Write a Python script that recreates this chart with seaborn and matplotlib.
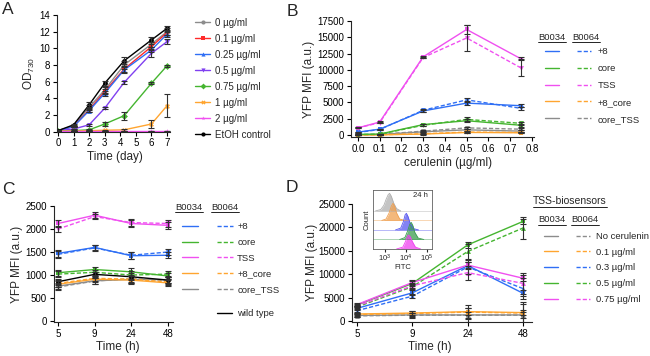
import matplotlib
matplotlib.use('Agg')
import matplotlib.pyplot as plt
import pandas as pd
import seaborn as sns
from matplotlib.lines import Line2D

# ---------------- data ----------------
# A: growth (OD730) under cerulenin
days = [0, 1, 2, 3, 4.25, 6, 7]
a_groups = ['0 µg/ml', '0.1 µg/ml', '0.25 µg/ml', '0.5 µg/ml', '0.75 µg/ml',
            '1 µg/ml', '2 µg/ml', 'EtOH control']
od_0 = [0.1, 0.7, 2.9, 5.0, 8.0, 10.5, 12.0]
od_01 = [0.1, 0.6, 2.6, 4.8, 7.5, 10.2, 11.9]
od_025 = [0.1, 0.6, 2.5, 4.6, 7.4, 9.8, 11.7]
od_05 = [0.1, 0.3, 0.8, 2.8, 5.9, 9.4, 10.8]
od_075 = [0.05, 0.1, 0.2, 0.9, 1.9, 5.8, 7.9]
od_1 = [0.05, 0.05, 0.1, 0.15, 0.2, 0.9, 3.1]
od_2 = [0.05, 0.05, 0.05, 0.05, 0.05, 0.05, 0.05]
od_etoh = [0.1, 0.8, 3.2, 5.8, 8.5, 11.0, 12.4]
sd_0 = [0.05, 0.1, 0.3, 0.4, 0.5, 0.3, 0.4]
sd_01 = [0.05, 0.1, 0.2, 0.3, 0.4, 0.3, 0.3]
sd_025 = [0.05, 0.1, 0.2, 0.3, 0.4, 0.3, 0.3]
sd_05 = [0.05, 0.05, 0.1, 0.1, 0.2, 0.4, 0.3]
sd_075 = [0.02, 0.05, 0.05, 0.2, 0.5, 0.1, 0.1]
sd_1 = [0.02, 0.02, 0.05, 0.05, 0.1, 0.5, 1.4]
sd_2 = [0.02, 0.02, 0.02, 0.02, 0.02, 0.02, 0.02]
sd_etoh = [0.05, 0.1, 0.3, 0.3, 0.4, 0.3, 0.3]

# B: YFP MFI vs cerulenin dose
cerulenin = [0, 0.1, 0.3, 0.5, 0.75]
constructs = ['+8', 'core', 'TSS', '+8_core', 'core_TSS']
b34_plus8 = [450, 900, 3700, 4900, 4500]
b64_plus8 = [400, 850, 3800, 5400, 4100]
b34_core = [100, 150, 1600, 2200, 1500]
b64_core = [80, 120, 1500, 2400, 1800]
b34_tss = [1100, 2000, 12000, 16200, 11700]
b64_tss = [1100, 1900, 11900, 14900, 10300]
b34_p8core = [20, 30, 150, 400, 350]
b64_p8core = [30, 40, 200, 450, 400]
b34_coretss = [50, 80, 500, 800, 600]
b64_coretss = [60, 100, 600, 1100, 900]
bsd34_plus8 = [60, 80, 200, 300, 250]
bsd64_plus8 = [60, 80, 200, 300, 200]
bsd34_core = [30, 40, 150, 250, 200]
bsd64_core = [30, 40, 150, 300, 200]
bsd34_tss = [80, 120, 150, 700, 200]
bsd64_tss = [80, 120, 150, 2000, 1300]
bsd34_p8core = [20, 20, 80, 100, 100]
bsd64_p8core = [20, 20, 80, 120, 100]
bsd34_coretss = [30, 30, 100, 150, 150]
bsd64_coretss = [30, 30, 100, 200, 150]

# C: YFP MFI over time without cerulenin
times_h = ['5', '9', '24', '48']
c34_plus8 = [1470, 1600, 1420, 1430]
c64_plus8 = [1450, 1590, 1430, 1500]
c34_core = [1050, 1120, 1070, 980]
c64_core = [1020, 1060, 1000, 1020]
c34_tss = [2120, 2300, 2120, 2080]
c64_tss = [2000, 2270, 2140, 2120]
c34_p8core = [800, 910, 890, 830]
c64_p8core = [820, 930, 910, 850]
c34_coretss = [760, 875, 905, 900]
c64_coretss = [740, 870, 920, 880]
c_wildtype = [855, 1015, 963, 890]
c_sd = [70, 60, 80, 70]

# D: TSS biosensors over time with cerulenin
d_doses = ['No cerulenin', '0.1 µg/ml', '0.3 µg/ml', '0.5 µg/ml', '0.75 µg/ml']
d34_0 = [1200, 1300, 1300, 1300]
d64_0 = [1100, 1250, 1250, 1250]
d34_01 = [1500, 1700, 2000, 1800]
d64_01 = [1400, 1600, 1900, 1700]
d34_03 = [2700, 6000, 11800, 5900]
d64_03 = [2200, 5300, 11500, 6900]
d34_05 = [3400, 8000, 16200, 21200]
d64_05 = [3000, 7300, 14800, 19800]
d34_075 = [3500, 8200, 11900, 9100]
d64_075 = [3200, 7500, 10300, 8000]
dsd34 = [300, 500, 700, 600]
dsd64 = [300, 500, 1500, 2300]

# D inset: FITC histograms at 24 h (log10 FITC, relative count)
gray_x = [2.55, 2.8, 2.95, 3.05, 3.15, 3.22, 3.3, 3.42, 3.55, 3.75]
gray_h = [0, 0.15, 0.6, 1.2, 1.7, 1.85, 1.55, 0.8, 0.25, 0]
orange_x = [2.85, 3.05, 3.2, 3.3, 3.38, 3.46, 3.55, 3.7, 3.95]
orange_h = [0, 0.15, 0.8, 1.5, 1.8, 1.5, 0.8, 0.15, 0]
blue_x = [3.5, 3.75, 3.88, 3.96, 4.02, 4.1, 4.2, 4.35, 4.6]
blue_h = [0, 0.2, 0.9, 1.6, 1.75, 1.4, 0.7, 0.15, 0]
green_x = [3.7, 3.95, 4.08, 4.18, 4.25, 4.33, 4.42, 4.58, 4.85]
green_h = [0, 0.2, 0.9, 1.6, 1.8, 1.45, 0.75, 0.15, 0]
magenta_x = [3.55, 3.85, 3.98, 4.06, 4.12, 4.2, 4.3, 4.45, 4.7]
magenta_h = [0, 0.2, 0.8, 1.3, 1.47, 1.3, 0.8, 0.2, 0]

# ---------------- style ----------------
sns.set_style('ticks')
plt.rcParams['font.family'] = ['Liberation Sans', 'DejaVu Sans']
plt.rcParams['mathtext.fontset'] = 'custom'
plt.rcParams['mathtext.rm'] = 'Liberation Sans'
plt.rcParams['mathtext.it'] = 'Liberation Sans:italic'
plt.rcParams['axes.linewidth'] = 0.8
plt.rcParams['xtick.major.width'] = 0.8
plt.rcParams['ytick.major.width'] = 0.8
plt.rcParams['xtick.major.size'] = 3
plt.rcParams['ytick.major.size'] = 3
plt.rcParams['xtick.major.pad'] = 2
plt.rcParams['ytick.major.pad'] = 2

GRAY = '#8c8c8c'
RED = '#ff2a2a'
BLUE = '#2f6ff5'
PURPLE = '#8040f0'
GREEN = '#45b530'
ORANGE = '#ffa530'
MAGENTA = '#f050f0'
ECOL = '#303030'

TICK = 7
LAB = 8.5
LEG = 6.8

fig = plt.figure(figsize=(6.5, 3.56), dpi=100)
W, H = 650, 356
underlined = []


def px_axes(l, r, t, b):
    return fig.add_axes([l / W, 1 - b / H, (r - l) / W, (b - t) / H])


def style_ax(ax):
    sns.despine(ax=ax)
    ax.tick_params(labelsize=TICK, colors='black')
    ax.set_facecolor('none')


def header(x, y, s, size=LEG):
    t = fig.text(x / W, 1 - y / H, s, fontsize=size, ha='center', va='center')
    underlined.append(t)


# ---------------- A ----------------
axA = px_axes(57, 170, 15, 131.5)
a_od = [od_0, od_01, od_025, od_05, od_075, od_1, od_2, od_etoh]
a_sd = [sd_0, sd_01, sd_025, sd_05, sd_075, sd_1, sd_2, sd_etoh]
a_colors = [GRAY, RED, BLUE, PURPLE, GREEN, ORANGE, MAGENTA, 'black']
a_marks = ['o', 's', '^', 'v', 'D', 'X', '*', 'o']
dfA = pd.DataFrame([(d, v, g) for g, vals in zip(a_groups, a_od)
                    for d, v in zip(days, vals)], columns=['day', 'od', 'group'])
sns.lineplot(data=dfA, x='day', y='od', hue='group', style='group',
             hue_order=a_groups, style_order=a_groups,
             palette=a_colors, markers=a_marks, dashes=False,
             markersize=3.5, markeredgewidth=0, linewidth=1, legend=False, ax=axA)
for vals, sds in zip(a_od, a_sd):
    axA.errorbar(days, vals, yerr=sds, fmt='none', ecolor=ECOL, elinewidth=0.8,
                 capsize=2.2, capthick=0.8)
axA.set_xlim(-0.06, 7.19)
axA.set_ylim(0, 14)
axA.set_xticks(range(8))
axA.set_yticks(range(0, 15, 2))
axA.set_xlabel('Time (day)', fontsize=LAB)
axA.set_ylabel('OD$_{730}$', fontsize=LAB)
axA.xaxis.set_label_coords(0.51, -0.167)
axA.yaxis.set_label_coords(-0.177, 0.5)
style_ax(axA)
a_handles = [Line2D([], [], color=c, marker=m, markersize=3, lw=1, mew=0)
             for c, m in zip(a_colors, a_marks)]
fig.legend(a_handles, a_groups, loc='upper left', bbox_to_anchor=(195 / W, 1 - 17.5 / H),
           frameon=False, fontsize=7, handlelength=1.55, handletextpad=0.5,
           labelspacing=0.62, borderpad=0, borderaxespad=0)


# ---------------- B ----------------
def long_df(xvals, names, s34, s64, xname):
    rows = []
    for n, v34, v64 in zip(names, s34, s64):
        for x, y in zip(xvals, v34):
            rows.append((x, y, n, 'B0034'))
        for x, y in zip(xvals, v64):
            rows.append((x, y, n, 'B0064'))
    return pd.DataFrame(rows, columns=[xname, 'mfi', 'name', 'rbs'])


b_colors = [BLUE, GREEN, MAGENTA, ORANGE, GRAY]
b34 = [b34_plus8, b34_core, b34_tss, b34_p8core, b34_coretss]
b64 = [b64_plus8, b64_core, b64_tss, b64_p8core, b64_coretss]
bsd34 = [bsd34_plus8, bsd34_core, bsd34_tss, bsd34_p8core, bsd34_coretss]
bsd64 = [bsd64_plus8, bsd64_core, bsd64_tss, bsd64_p8core, bsd64_coretss]
DASHES = {'B0034': '', 'B0064': (3, 1.5)}
MARKS = {'B0034': 's', 'B0064': 'v'}
order_b = ['core_TSS', '+8_core', 'core', '+8', 'TSS']
pal_b = [GRAY, ORANGE, GREEN, BLUE, MAGENTA]

axB = px_axes(351, 534, 21, 137)
dfB = long_df(cerulenin, constructs, b34, b64, 'conc')
sns.lineplot(data=dfB, x='conc', y='mfi', hue='name', style='rbs',
             hue_order=order_b, palette=pal_b,
             dashes=DASHES, markers=MARKS, markersize=3.5, markeredgewidth=0,
             linewidth=1, legend=False, ax=axB)
for v34, v64, s34, s64 in zip(b34, b64, bsd34, bsd64):
    axB.errorbar(cerulenin, v34, yerr=s34, fmt='none', ecolor=ECOL, elinewidth=0.8,
                 capsize=2.2, capthick=0.8)
    axB.errorbar(cerulenin, v64, yerr=s64, fmt='none', ecolor=ECOL, elinewidth=0.8,
                 capsize=2.2, capthick=0.8)
axB.set_xlim(-0.032, 0.81)
axB.set_ylim(-300, 17500)
axB.set_xticks([i / 10 for i in range(9)])
axB.set_xticklabels(['%.1f' % (i / 10) for i in range(9)])
axB.set_yticks(range(0, 17501, 2500))
axB.set_xlabel('cerulenin (µg/ml)', fontsize=LAB)
axB.set_ylabel('YFP MFI (a.u.)', fontsize=LAB)
axB.xaxis.set_label_coords(0.53, -0.172)
axB.yaxis.set_label_coords(-0.197, 0.5)
style_ax(axB)


def two_col_legend(colors, labels, top_px, left_px, spacing, hl=1.5, tp=0.64, cs=1.27):
    h34 = [Line2D([], [], color=c, lw=1) for c in colors]
    h64 = [Line2D([], [], color=c, lw=1, dashes=(3, 1.5)) for c in colors]
    fig.legend(h34 + h64, [''] * len(colors) + labels, ncol=2, loc='upper left',
               bbox_to_anchor=(left_px / W, 1 - top_px / H), frameon=False,
               fontsize=LEG, handlelength=hl, handletextpad=tp,
               columnspacing=cs, labelspacing=spacing, borderpad=0,
               borderaxespad=0)


two_col_legend(b_colors, constructs, 47, 545, 0.84)
header(552, 37, 'B0034')
header(586, 37, 'B0064')

# ---------------- C ----------------
axC = px_axes(54, 173, 206, 322)
c34 = [c34_plus8, c34_core, c34_tss, c34_p8core, c34_coretss]
c64 = [c64_plus8, c64_core, c64_tss, c64_p8core, c64_coretss]
dfC = long_df(times_h, constructs, c34, c64, 'time')
sns.lineplot(data=dfC, x='time', y='mfi', hue='name', style='rbs',
             hue_order=order_b, palette=pal_b,
             dashes=DASHES, markers=MARKS, markersize=3.5, markeredgewidth=0,
             linewidth=1, legend=False, ax=axC)
dfWT = pd.DataFrame({'time': times_h, 'mfi': c_wildtype})
sns.lineplot(data=dfWT, x='time', y='mfi', color='black', marker='o', markersize=3.5,
             markeredgewidth=0, linewidth=1, ax=axC)
for vals in c34 + c64 + [c_wildtype]:
    axC.errorbar(times_h, vals, yerr=c_sd, fmt='none', ecolor=ECOL, elinewidth=0.8,
                 capsize=2.2, capthick=0.8)
axC.set_xlim(-0.11, 3.14)
axC.set_ylim(-20, 2500)
axC.set_yticks(range(0, 2501, 500))
axC.set_xlabel('Time (h)', fontsize=LAB)
axC.set_ylabel('YFP MFI (a.u.)', fontsize=LAB)
axC.xaxis.set_label_coords(0.54, -0.164)
axC.yaxis.set_label_coords(-0.26, 0.5)
style_ax(axC)

two_col_legend(b_colors, constructs, 222, 182, 0.73, hl=1.7, tp=0.42, cs=1.6)
fig.legend([Line2D([], [], color='black', lw=1)], ['wild type'], loc='upper left',
           bbox_to_anchor=(217 / W, 1 - 309 / H), frameon=False, fontsize=LEG,
           handlelength=1.6, handletextpad=0.5, borderpad=0, borderaxespad=0)
header(189, 207, 'B0034')
header(225, 207, 'B0064')

# ---------------- D ----------------
axD = px_axes(352, 532, 203.5, 322)
d34 = [d34_0, d34_01, d34_03, d34_05, d34_075]
d64 = [d64_0, d64_01, d64_03, d64_05, d64_075]
d_colors = [GRAY, ORANGE, BLUE, GREEN, MAGENTA]
dfD = long_df(times_h, d_doses, d34, d64, 'time')
sns.lineplot(data=dfD, x='time', y='mfi', hue='name', style='rbs',
             hue_order=d_doses, palette=d_colors,
             dashes=DASHES, markers={'B0034': 's', 'B0064': '^'}, markersize=3.5,
             markeredgewidth=0, linewidth=1, legend=False, ax=axD)
for vals in d34:
    axD.errorbar(times_h, vals, yerr=dsd34, fmt='none', ecolor=ECOL, elinewidth=0.8,
                 capsize=2.2, capthick=0.8)
for vals in d64:
    axD.errorbar(times_h, vals, yerr=dsd64, fmt='none', ecolor=ECOL, elinewidth=0.8,
                 capsize=2.2, capthick=0.8)
axD.set_xlim(-0.09, 3.16)
axD.set_ylim(-200, 25000)
axD.set_yticks(range(0, 25001, 5000))
axD.set_xlabel('Time (h)', fontsize=LAB)
axD.set_ylabel('YFP MFI (a.u.)', fontsize=LAB)
axD.xaxis.set_label_coords(0.43, -0.16)
axD.yaxis.set_label_coords(-0.19, 0.5)
style_ax(axD)

two_col_legend(d_colors, d_doses, 232, 544, 0.71)
header(570, 201, 'TSS-biosensors', size=7.5)
header(552, 220, 'B0034')
header(585, 220, 'B0064')

# inset
axI = px_axes(373, 432, 190, 249)
ridges = [(gray_x, gray_h, '#b0b0b0'), (orange_x, orange_h, '#f0a050'),
          (blue_x, blue_h, '#5858f0'), (green_x, green_h, '#3c9c50'),
          (magenta_x, magenta_h, '#f040f0')]
for i, (xs, hs, col) in enumerate(ridges):
    base = 4 - i
    axI.axhline(base, color=col, lw=0.5, alpha=0.6)
    axI.fill_between(xs, [base + h for h in hs], base, color=col, alpha=0.75, lw=0)
    axI.plot(xs, [base + h for h in hs], color=col, lw=0.6)
axI.set_xlim(2.43, 5.24)
axI.set_ylim(0, 6.2)
axI.set_xticks([3, 4, 5])
axI.set_xticklabels(['$10^3$', '$10^4$', '$10^5$'])
axI.set_yticks([])
axI.tick_params(labelsize=5.5, length=2, pad=1)
for s in axI.spines.values():
    s.set_linewidth(0.6)
    s.set_color('#606060')
axI.set_xlabel('FITC', fontsize=5.5, labelpad=0)
axI.set_ylabel('Count', fontsize=5.5, labelpad=2)
axI.text(0.93, 0.9, '24 h', transform=axI.transAxes, fontsize=5.5, ha='right', va='center')

# panel letters
for letter, x, y in [('A', 8, 9), ('B', 292, 11), ('C', 8, 190), ('D', 292, 188)]:
    fig.text(x / W, 1 - y / H, letter, fontsize=12.5, ha='center', va='center')

# underline the legend headers
fig.canvas.draw()
inv = fig.transFigure.inverted()
for t in underlined:
    bb = t.get_window_extent().transformed(inv)
    fig.add_artist(Line2D([bb.x0, bb.x1], [bb.y0 - 0.002, bb.y0 - 0.002],
                          transform=fig.transFigure, color='black', lw=0.6))

fig.savefig('out.png', dpi=100)
